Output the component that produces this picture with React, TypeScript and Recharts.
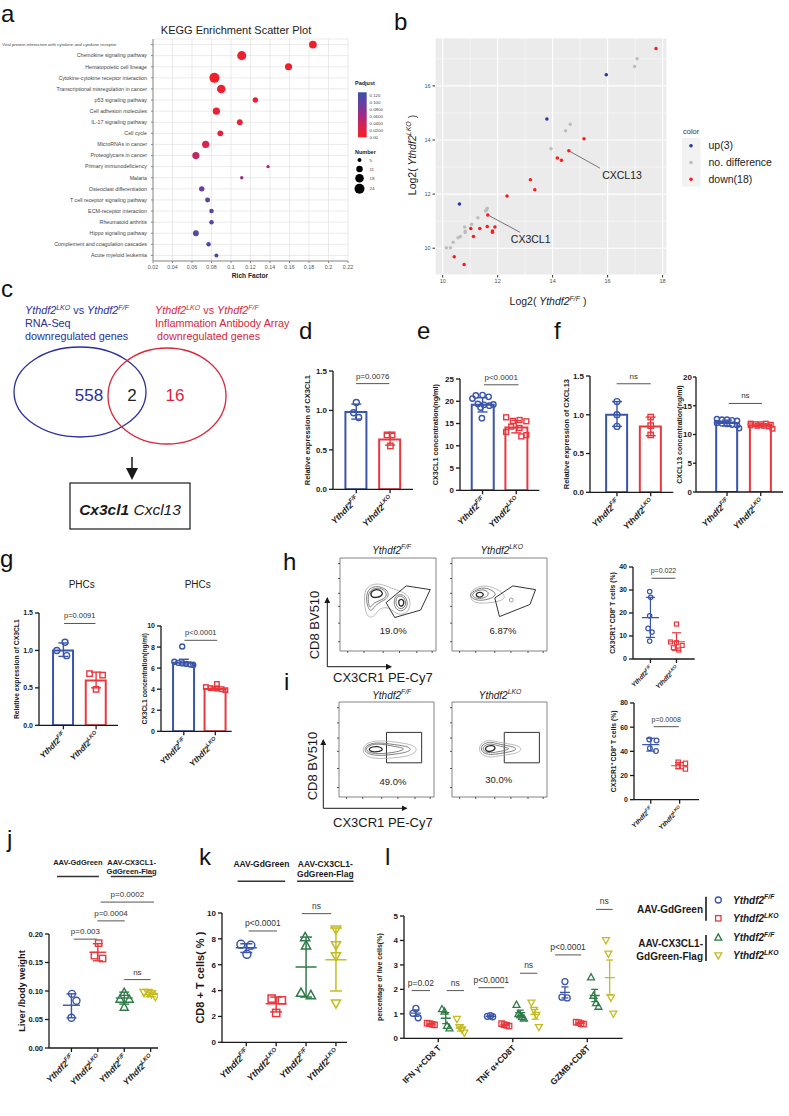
import React from "react";
import {
  ComposedChart, ScatterChart, Scatter, Bar, Line, Cell, XAxis, YAxis,
  CartesianGrid, ErrorBar, ReferenceLine, ReferenceArea, ReferenceDot, Label, Legend,
} from "recharts";

const FONT = '"Liberation Sans", Arial, Helvetica, sans-serif';
const BLUE = "#3a55aa";
const RED = "#e8383e";
const GREEN = "#2e7b48";
const YEL = "#c4bc20";
const INK = "#1a1a1a";

// ---------- a: KEGG enrichment ----------
const keggTerms = [
  "Viral protein interaction with cytokine and cytokine receptor",
  "Chemokine signaling pathway",
  "Hematopoietic cell lineage",
  "Cytokine-cytokine receptor interaction",
  "Transcriptional misregulation in cancer",
  "p53 signaling pathway",
  "Cell adhesion molecules",
  "IL-17 signaling pathway",
  "Cell cycle",
  "MicroRNAs in cancer",
  "Proteoglycans in cancer",
  "Primary immunodeficiency",
  "Malaria",
  "Osteoclast differentiation",
  "T cell receptor signaling pathway",
  "ECM-receptor interaction",
  "Rheumatoid arthritis",
  "Hippo signaling pathway",
  "Complement and coagulation cascades",
  "Acute myeloid leukemia",
];
const keggRich = [0.184, 0.111, 0.159, 0.083, 0.09, 0.125, 0.085, 0.109, 0.089, 0.074, 0.064, 0.138, 0.111, 0.07, 0.076, 0.08, 0.08, 0.064, 0.077, 0.085];
const keggCount = [15, 20, 13, 24, 18, 8, 13, 9, 9, 13, 13, 4, 4, 8, 7, 6, 6, 9, 6, 5];
const keggPadj = [0.004, 0.006, 0.006, 0.002, 0.008, 0.01, 0.012, 0.012, 0.015, 0.03, 0.045, 0.055, 0.06, 0.095, 0.1, 0.105, 0.105, 0.11, 0.115, 0.12];
const keggTicks = [0.02, 0.04, 0.06, 0.08, 0.1, 0.12, 0.14, 0.16, 0.18, 0.2, 0.22];
const numberLegend = [5, 11, 18, 24];
const padjLegend = [0.12, 0.1, 0.08, 0.06, 0.04, 0.02, 0];
const padjLegendText = ["0.120", "0.100", "0.0800", "0.0600", "0.0400", "0.0200", "0.00"];

// ---------- b: scatter ----------
const bUpX = [15.95, 13.79, 10.61];
const bUpY = [16.41, 14.78, 11.63];
const bSameX = [17.07, 16.98, 14.64, 14.47, 13.94, 11.62, 11.6, 11.56, 11.28, 11.05, 10.8, 10.82, 10.82, 10.64, 10.56, 10.38, 10.28, 10.13];
const bSameY = [17.0, 16.72, 14.58, 14.34, 13.68, 11.48, 11.42, 11.38, 11.13, 10.89, 10.78, 10.63, 10.58, 10.43, 10.39, 10.22, 10.02, 10.02];
const bDownX = [17.76, 15.14, 14.59, 14.17, 14.32, 13.19, 13.35, 12.34, 11.64, 11.02, 11.35, 11.62, 11.9, 11.81, 11.81, 11.12, 10.42, 10.78];
const bDownY = [17.38, 14.05, 13.6, 13.33, 13.25, 12.53, 12.16, 11.93, 11.23, 10.73, 10.73, 10.8, 10.78, 10.64, 10.59, 10.43, 9.68, 9.4];
const bNames = ["up(3)", "no. difference", "down(18)"];

// ---------- d-g: bars with dots ----------
const dFF = [1.1, 0.97, 0.91];
const dLKO = [0.69, 0.69, 0.55];
const dMean = [0.98, 0.63];
const dSD = [[0.89, 1.08], [0.56, 0.71]];
const eFF = [21.3, 21.4, 21.0, 20.6, 19.4, 19.2, 19.0, 19.3, 18.6, 16.2];
const eLKO = [16.4, 15.6, 15.8, 15.5, 14.3, 14.0, 13.1, 12.1, 12.4];
const eMean = [19.2, 14.1];
const eSD = [[17.6, 20.8], [12.9, 15.7]];
const fFF = [1.17, 1.0, 0.85];
const fLKO = [0.97, 0.86, 0.74];
const fMean = [1.0, 0.85];
const fSD = [[0.85, 1.17], [0.73, 0.97]];
const f2FF = [12.7, 12.6, 12.6, 12.5, 12.4, 12.0, 11.9, 11.8, 11.7, 11.6, 11.1];
const f2LKO = [11.9, 11.8, 11.8, 11.9, 11.7, 11.6, 11.5, 11.5, 11.4, 11.0];
const f2Mean = [12.0, 11.6];
const f2SD = [[11.5, 12.5], [11.3, 11.9]];
const gFF = [1.11, 1.0, 0.93];
const gLKO = [0.69, 0.67, 0.48];
const gMean = [1.0, 0.6];
const gSD = [[0.92, 1.1], [0.5, 0.71]];
const g2FF = [8.05, 6.6, 6.5, 6.45, 6.4, 6.35, 6.3];
const g2LKO = [4.5, 4.2, 4.1, 4.05, 4.0, 3.9];
const g2Mean = [6.52, 4.02];
const g2SD = [[6.3, 6.84], [3.9, 4.2]];

// ---------- h, i: CX3CR1+ CD8+ T cells ----------
const hFF = [29.3, 26.8, 18.8, 13.3, 11.7, 7.8];
const hLKO = [15.2, 7.4, 7.1, 5.9, 4.9, 3.9];
const hMean = [18.0, 7.5];
const hSD = [[9.4, 26.8], [3.8, 11.4]];
const iFF = [49.8, 49.0, 42.5, 40.2];
const iLKO = [31.0, 30.1, 27.6, 25.4];
const iMean = [45.5, 28.1];
const iSD = [[40.2, 50.8], [25.6, 30.8]];

// ---------- j, k ----------
const jVals = [[0.095, 0.083, 0.053], [0.184, 0.162, 0.157], [0.098, 0.086, 0.086, 0.072], [0.097, 0.097, 0.095, 0.09]];
const jMean = [0.075, 0.168, 0.0877, 0.094];
const jSD = [[0.053, 0.095], [0.153, 0.183], [0.077, 0.098], [0.09, 0.098]];
const kVals = [[7.58, 7.5, 6.8], [3.38, 3.25, 2.27], [8.14, 7.5, 3.84, 3.66], [8.71, 7.5, 6.65, 2.99]];
const kMean = [7.32, 2.99, 5.82, 6.39];
const kSD = [[6.95, 7.62], [2.35, 3.5], [3.5, 8.14], [3.97, 8.84]];

// ---------- l ----------
const lCats = ["IFN γ+CD8 T", "TNF α+CD8T", "GZMB+CD8T"];
const lVals = [
  [[1.22, 1.02, 0.84], [0.62, 0.6, 0.57, 0.55], [1.2, 1.1, 0.52, 0.42], [0.78, 0.45, 0.35, 0.22]],
  [[0.93, 0.9, 0.88], [0.6, 0.56, 0.53, 0.5], [1.38, 1.0, 0.95, 0.88, 0.82], [1.45, 1.15, 0.95, 0.45]],
  [[2.32, 1.68, 1.65], [0.66, 0.64, 0.6, 0.58], [2.5, 1.75, 1.45, 1.3], [4.0, 3.45, 1.65, 1.0]],
];
const lMean = [[1.03, 0.58, 0.82, 0.42], [0.9, 0.55, 1.05, 0.98], [1.88, 0.62, 1.75, 2.48]];
const lErr = [
  [[0.9, 1.16], [0.55, 0.61], [0.6, 1.05], [0.3, 0.55]],
  [[0.88, 0.92], [0.52, 0.58], [0.94, 1.15], [0.78, 1.18]],
  [[1.65, 2.1], [0.6, 0.65], [1.5, 2.0], [1.78, 3.2]],
];

// ---------- flow contours (in % of axis range) ----------
const flowTicksX = [8, 25, 45, 62, 80, 96];
const flowTicksY = [10, 30, 48, 62, 78, 94];
const h1Rings = [
  [[26, 69], [40, 74], [54, 67], [68, 63], [74, 55], [72, 41], [60, 38], [52, 47], [41, 47], [35, 35], [27, 37], [25, 55]],
  [[28, 67], [40, 71], [52, 64], [49, 55], [37, 51], [32, 40], [27, 52]],
  [[30, 66], [42, 69], [50, 62], [46, 55], [35, 53], [31, 44], [29, 55]],
  [[56, 60], [67, 62], [72, 50], [65, 41], [56, 46]],
  [[58, 59], [66, 60], [70, 50], [64, 44], [58, 48]],
  [[32, 65], [42, 67], [46, 60], [37, 57], [32, 58]],
  [[61, 55], [66, 56], [67, 50], [63, 47], [61, 51]],
];
const h1Lvl = [0, 1, 1, 1, 1, 2, 2];
const h1Gate = [[48, 52], [69, 70], [94, 66], [84, 44], [57, 36]];
const h2Rings = [
  [[18, 64], [30, 71], [43, 69], [55, 62], [56, 55], [42, 52], [30, 51], [20, 53]],
  [[20, 63], [31, 69], [42, 66], [48, 60], [38, 55], [26, 54], [19, 58]],
  [[22, 63], [32, 67], [40, 63], [36, 57], [26, 56], [21, 59]],
  [[24, 62], [32, 64], [34, 59], [27, 57]],
];
const h2Lvl = [0, 1, 1, 2];
const h2Gate = [[45, 57], [64, 70], [88, 66], [82, 50], [50, 37]];
const i1Rings = [
  [[25, 55], [38, 60], [59, 58], [79, 55], [83, 49], [75, 43], [56, 41], [38, 40], [25, 44]],
  [[27, 54], [39, 58], [59, 55], [75, 53], [76, 48], [60, 45], [40, 43], [27, 46]],
  [[28, 53], [40, 57], [59, 53], [72, 51], [60, 47], [41, 45], [29, 47]],
  [[31, 52], [41, 54], [48, 50], [40, 47], [32, 48]],
];
const i2Rings = [
  [[28, 55], [38, 61], [51, 57], [68, 55], [75, 50], [66, 45], [51, 44], [40, 41], [29, 45]],
  [[30, 54], [39, 59], [51, 55], [66, 53], [69, 49], [52, 46], [40, 44], [31, 47]],
  [[32, 53], [40, 57], [51, 53], [64, 51], [51, 48], [40, 46], [33, 48]],
  [[35, 53], [43, 55], [47, 51], [40, 47], [35, 49]],
];
const iLvl = [0, 1, 1, 2];
const i1Gate = [50, 87, 36, 68];
const i2Gate = [55, 92, 36, 68];

// ---------- helpers ----------
const padjStops: [number, string][] = [[0, "#f41f26"], [0.03, "#d8234a"], [0.06, "#a8277e"], [0.09, "#6d3c9f"], [0.128, "#3c4fa8"]];
function hexRgb(h: string) {
  const n = parseInt(h.slice(1), 16);
  return [(n >> 16) & 255, (n >> 8) & 255, n & 255];
}
function padjColor(v: number) {
  for (let i = 1; i < padjStops.length; i++) {
    const [v1, c1] = padjStops[i];
    const [v0, c0] = padjStops[i - 1];
    if (v <= v1) {
      const t = (v - v0) / (v1 - v0);
      const a = hexRgb(c0), b = hexRgb(c1);
      return `rgb(${a.map((x, k) => Math.round(x + (b[k] - x) * t)).join(",")})`;
    }
  }
  return padjStops[padjStops.length - 1][1];
}
// gene count -> circle radius (area linear in count)
const zRange = [12.6, 78.5];
const zRadius = (n: number) => Math.sqrt(Math.max(zRange[0] + ((n - 5) / 19) * (zRange[1] - zRange[0]), 4) / Math.PI);

function marker(mk: string, color: string, r: number, sw: number) {
  return (p: any) => {
    const { cx, cy } = p;
    if (cx == null || cy == null) return <g />;
    if (mk === "sq") {
      const s = r * 0.9;
      return <rect x={cx - s} y={cy - s} width={2 * s} height={2 * s} fill="none" stroke={color} strokeWidth={sw} />;
    }
    if (mk === "tri" || mk === "itri") {
      const h = r * 1.15;
      const d = mk === "tri" ? 1 : -1;
      return (
        <polygon
          points={`${cx},${cy - d * h} ${cx - h},${cy + d * h * 0.8} ${cx + h},${cy + d * h * 0.8}`}
          fill="none" stroke={color} strokeWidth={sw}
        />
      );
    }
    return <circle cx={cx} cy={cy} r={r} fill="none" stroke={color} strokeWidth={sw} />;
  };
}

function RotTick(props: any) {
  const { x, y, index, labels, fs, italic } = props;
  const lab = labels[index];
  if (!lab) return null;
  return (
    <g transform={`translate(${x},${y + 1}) rotate(-45)`}>
      <text x={0} y={0} dy={fs * 0.55} textAnchor="end" fontSize={fs} fontWeight={700}
        fontStyle={italic ? "italic" : "normal"} fill={INK}>
        {lab[0]}
        {lab[1] ? <tspan dy={-fs * 0.45} fontSize={fs * 0.68}>{lab[1]}</tspan> : null}
      </text>
    </g>
  );
}

function grp(x: number, pts: number[], jit: number[], mean: number, sd: number[], color: string, mk: string) {
  return { x, pts, jit, mean, sd, color, mk };
}

function DotPanel(p: any) {
  const ML = 46, MR = p.mr ?? 20, MB = 62, MT = p.mt ?? 56;
  const left = p.px - ML, top = p.py - MT;
  const W = ML + p.pw + MR, H = MT + p.ph + MB;
  const rows = p.groups.map((g: any) => ({ x: g.x, y: g.mean }));
  const empty = () => <g />;
  const meanLine = (color: string) => (q: any) =>
    q.cx == null ? <g /> : <line x1={q.cx - p.meanW} x2={q.cx + p.meanW} y1={q.cy} y2={q.cy} stroke={color} strokeWidth={p.sw} />;
  return (
    <div style={{ position: "absolute", left, top }}>
      <ComposedChart width={W} height={H} data={rows} margin={{ top: MT, right: MR, bottom: 0, left: 0 }}>
        <XAxis type="number" dataKey="x" domain={p.xDom} ticks={p.xTicks} interval={0} allowDataOverflow height={MB}
          axisLine={{ stroke: INK, strokeWidth: 1.3 }} tickLine={{ stroke: INK, strokeWidth: 1.3 }} tickSize={4}
          tick={<RotTick labels={p.labels} fs={p.xfs} italic={p.italic !== false} />} />
        <XAxis xAxisId="pts" type="number" dataKey="x" domain={p.xDom} allowDataOverflow hide />
        <YAxis type="number" dataKey="y" domain={p.yDom} ticks={p.yTicks} interval={0} allowDataOverflow width={ML}
          axisLine={{ stroke: INK, strokeWidth: 1.3 }} tickLine={{ stroke: INK, strokeWidth: 1.3 }} tickSize={p.tsz ?? 4}
          tickMargin={p.tm ?? 2}
          tickFormatter={(v: number) => v.toFixed(p.dec)} tick={{ fontSize: p.fs, fontWeight: 700, fill: INK }}>
          <Label content={() => (
            <text transform={`translate(${p.lx - left},${MT + p.ph / 2}) rotate(-90)`} textAnchor="middle"
              dominantBaseline="central" fontSize={p.lfs} fontWeight={700} fill={INK}>{p.ylabel}</text>
          )} />
        </YAxis>
        {p.bar && (
          <Bar dataKey="y" barSize={p.bw} fill="none" isAnimationActive={false}>
            {p.groups.map((g: any, i: number) => <Cell key={i} stroke={g.color} strokeWidth={2} fill="none" />)}
          </Bar>
        )}
        {p.groups.map((g: any, i: number) => (
          <Scatter key={"m" + i} xAxisId="pts" dataKey="y" isAnimationActive={false}
            data={[{ x: g.x, y: g.mean, e: [g.mean - g.sd[0], g.sd[1] - g.mean] }]}
            shape={p.bar ? empty : meanLine(g.color)}>
            <ErrorBar dataKey="e" direction="y" width={p.cap} stroke={g.color} strokeWidth={p.sw} />
          </Scatter>
        ))}
        {p.groups.map((g: any, i: number) => (
          <Scatter key={"p" + i} xAxisId="pts" dataKey="y" isAnimationActive={false}
            data={g.pts.map((v: number, k: number) => ({ x: g.x + (g.jit[k] || 0), y: v }))}
            shape={marker(g.mk, g.color, p.r, p.sw)} />
        ))}
        {p.pvals.map((q: any, i: number) => (
          <ReferenceLine key={"q" + i} segment={[{ x: q.a, y: q.y }, { x: q.b, y: q.y }]} ifOverflow="visible"
            stroke="#555" strokeWidth={1}
            label={{ value: q.t, position: "top", fontSize: p.pfs, fill: "#333", offset: 5 }} />
        ))}
        {(p.headers || []).map((h: any, i: number) => (
          <ReferenceLine key={"h" + i} segment={[{ x: h.a, y: h.y }, { x: h.b, y: h.y }]} ifOverflow="visible"
            stroke="#333" strokeWidth={1.6}
            label={{
              content: (lp: any) => {
                const vb = lp.viewBox || {};
                const cx = vb.x + vb.width / 2;
                return (
                  <text textAnchor="middle" fontSize={p.hfs} fontWeight={700} fill={INK}>
                    {h.lines.map((s: string, k: number) => (
                      <tspan key={k} x={cx} y={vb.y - p.htop + k * p.hgap}>{s}</tspan>
                    ))}
                  </text>
                );
              },
            }} />
        ))}
      </ComposedChart>
    </div>
  );
}

const geno2 = [["Ythdf2", "F/F"], ["Ythdf2", "LKO"]];
const geno4 = [["Ythdf2", "F/F"], ["Ythdf2", "LKO"], ["Ythdf2", "F/F"], ["Ythdf2", "LKO"]];
const ringStyle = [["#a8a8a8", 0.8], ["#707070", 0.9], ["#2a2a2a", 1.3]];

function FlowPlot(p: any) {
  const ML = 14, MB = 12, MT = 2, MR = 2;
  return (
    <div style={{ position: "absolute", left: p.px - ML, top: p.py - MT }}>
      <ComposedChart width={ML + p.pw + MR} height={MT + p.ph + MB} margin={{ top: MT, right: MR, bottom: 0, left: 0 }}>
        <XAxis type="number" dataKey="x" domain={[0, 100]} ticks={flowTicksX} interval={0} tickFormatter={() => ""}
          height={MB} axisLine={false} tickSize={2} tickLine={{ stroke: "#555" }} allowDataOverflow />
        <YAxis type="number" dataKey="y" domain={[0, 100]} ticks={flowTicksY} interval={0} tickFormatter={() => ""}
          width={ML} axisLine={false} tickSize={2} tickLine={{ stroke: "#555" }} allowDataOverflow />
        <ReferenceArea x1={0} x2={100} y1={0} y2={100} fill="none" stroke="#777" strokeWidth={0.9} fillOpacity={0} />
        {p.rings.map((r: number[][], i: number) => (
          <Line key={i} data={r.map(([x, y]) => ({ x, y }))} dataKey="y" type="basisClosed"
            stroke={ringStyle[p.lvl[i]][0] as string} strokeWidth={ringStyle[p.lvl[i]][1] as number}
            dot={false} activeDot={false} isAnimationActive={false} />
        ))}
        {p.gate && (
          <Line data={p.gate.map(([x, y]: number[]) => ({ x, y }))} dataKey="y" type="linearClosed" stroke="#333"
            strokeWidth={1} dot={false} activeDot={false} isAnimationActive={false} />
        )}
        {p.rect && (
          <ReferenceArea x1={p.rect[0]} x2={p.rect[1]} y1={p.rect[2]} y2={p.rect[3]} fill="none" fillOpacity={0}
            stroke="#333" strokeWidth={1} />
        )}
        {p.blip && <ReferenceDot x={p.blip[0]} y={p.blip[1]} r={2} fill="none" stroke="#888" strokeWidth={0.8} />}
        <ReferenceDot x={p.pctAt[0]} y={p.pctAt[1]} r={0} stroke="none"
          label={{ value: p.pct, position: "center", fontSize: 9.5, fill: "#222" }} />
      </ComposedChart>
    </div>
  );
}

function KeggTick(props: any) {
  const { x, y, payload } = props;
  const s = String(payload.value);
  if (s.length > 45) {
    return <text x={2} y={y} dy={1.6} textAnchor="start" fontSize={4.4} fill="#444">{s}</text>;
  }
  return <text x={x - 2} y={y} dy={1.8} textAnchor="end" fontSize={5.3} fill="#444">{s}</text>;
}

const keggDot = (q: any) =>
  q.cx == null ? <g /> : <circle cx={q.cx} cy={q.cy} r={zRadius(q.payload.n)} fill={padjColor(q.payload.padj)} />;

function KeggPanel() {
  const rows = keggTerms.map((t, i) => ({ term: t, rich: keggRich[i], n: keggCount[i], padj: keggPadj[i] }));
  return (
    <div style={{ position: "absolute", left: 0, top: 20 }}>
      <ScatterChart width={400} height={272} margin={{ top: 19, right: 52, bottom: 0, left: 0 }}>
        <CartesianGrid stroke="#e2e2e2" strokeWidth={0.7} />
        <XAxis type="number" dataKey="rich" domain={[0.02, 0.22]} ticks={keggTicks} interval={0} allowDataOverflow height={31}
          tickSize={2} tick={{ fontSize: 5.3, fill: "#555" }} tickFormatter={(v: number) => String(+v.toFixed(2))}
          axisLine={{ stroke: "#8a8a8a" }} tickLine={{ stroke: "#8a8a8a" }}>
          <Label content={() => (
            <text x={250} y={258} textAnchor="middle" fontSize={6.6} fontWeight={700} fill="#222">Rich Factor</text>
          )} />
        </XAxis>
        <YAxis type="category" dataKey="term" reversed width={153} interval={0} tick={<KeggTick />} tickSize={2}
          axisLine={{ stroke: "#8a8a8a" }} tickLine={{ stroke: "#8a8a8a" }} />
        <XAxis xAxisId="t" orientation="top" type="number" domain={[0, 1]} tick={false} tickLine={false} height={0}
          axisLine={{ stroke: "#8a8a8a" }} />
        <YAxis yAxisId="r" orientation="right" type="number" domain={[0, 1]} tick={false} tickLine={false} width={0}
          axisLine={{ stroke: "#8a8a8a" }} />
        <Scatter data={rows} isAnimationActive={false} shape={keggDot} />
      </ScatterChart>
    </div>
  );
}

function BLegend(props: any) {
  const pay = props.payload || [];
  const items = bNames.map((n) => pay.find((q: any) => q.value === n)).filter(Boolean);
  return (
    <svg width={108} height={70} style={{ overflow: "visible" }}>
      <text x={1} y={8.5} fontSize={7.5} fill="#333">color</text>
      <rect x={0} y={13} width={18.5} height={48.5} fill="#f2f2f2" />
      {items.map((it: any, i: number) => (
        <g key={i}>
          <circle cx={9} cy={20.7 + 16.8 * i} r={1.8} fill={it.color} />
          <text x={26.5} y={24.4 + 16.8 * i} fontSize={10.5} fill="#222">{it.value}</text>
        </g>
      ))}
    </svg>
  );
}

const bDot = (color: string) => (q: any) => (q.cx == null ? <g /> : <circle cx={q.cx} cy={q.cy} r={1.75} fill={color} />);

function ScatterB() {
  const up = bUpX.map((x, i) => ({ x, y: bUpY[i] }));
  const same = bSameX.map((x, i) => ({ x, y: bSameY[i] }));
  const down = bDownX.map((x, i) => ({ x, y: bDownY[i] }));
  const minor = [11, 13, 15, 17];
  return (
    <div style={{ position: "absolute", left: 380, top: 20 }}>
      <ScatterChart width={409} height={300} margin={{ top: 18, right: 122, bottom: 0, left: 0 }}>
        <CartesianGrid fill="#ebebeb" stroke="#ffffff" strokeWidth={1.1} />
        {minor.map((v) => <ReferenceLine key={"x" + v} x={v} stroke="#fff" strokeWidth={0.5} />)}
        {minor.map((v) => <ReferenceLine key={"y" + v} y={v} stroke="#fff" strokeWidth={0.5} />)}
        <XAxis type="number" dataKey="x" domain={[9.72, 18.16]} ticks={[10, 12, 14, 16, 18]} interval={0} allowDataOverflow
          height={45} tickSize={2.5} tick={{ fontSize: 5.5, fill: "#4d4d4d" }} axisLine={false} tickLine={{ stroke: "#333" }}>
          <Label content={() => (
            <text x={168} y={285} textAnchor="middle" fontSize={10.5} fill="#222">
              Log2(<tspan fontStyle="italic"> Ythdf2</tspan><tspan dy={-4} fontSize={7} fontStyle="italic">F/F</tspan><tspan dy={4}> )</tspan>
            </text>
          )} />
        </XAxis>
        <YAxis type="number" dataKey="y" domain={[9.01, 17.77]} ticks={[10, 12, 14, 16]} interval={0} allowDataOverflow
          width={55} tickSize={2.5} tick={{ fontSize: 5.5, fill: "#4d4d4d" }} axisLine={false} tickLine={{ stroke: "#333" }}>
          <Label content={() => (
            <text transform="translate(32,135) rotate(-90)" textAnchor="middle" dominantBaseline="central" fontSize={10.5} fill="#222">
              Log2(<tspan fontStyle="italic"> Ythdf2</tspan><tspan dy={-4} fontSize={7} fontStyle="italic">LKO</tspan><tspan dy={4}> )</tspan>
            </text>
          )} />
        </YAxis>
        <ReferenceLine segment={[{ x: 14.59, y: 13.6 }, { x: 15.72, y: 12.96 }]} stroke="#444" strokeWidth={0.7} />
        <ReferenceLine segment={[{ x: 11.64, y: 11.23 }, { x: 12.81, y: 10.59 }]} stroke="#444" strokeWidth={0.7} />
        <Scatter name={bNames[1]} data={same} fill="#bdbdbd" shape={bDot("#bdbdbd")} isAnimationActive={false} />
        <Scatter name={bNames[2]} data={down} fill="#ff1a1a" shape={bDot("#ff1a1a")} isAnimationActive={false} />
        <Scatter name={bNames[0]} data={up} fill="#1f3c9e" shape={bDot("#1f3c9e")} isAnimationActive={false} />
        <ReferenceDot x={15.8} y={12.71} r={0} stroke="none" label={{ value: "CXCL13", position: "right", offset: 0, fontSize: 10.5, fill: "#222" }} />
        <ReferenceDot x={12.48} y={10.33} r={0} stroke="none" label={{ value: "CX3CL1", position: "right", offset: 0, fontSize: 10.5, fill: "#222" }} />
        <Legend layout="horizontal" verticalAlign="middle" align="center"
          wrapperStyle={{ left: 302, top: 105, width: 108, height: 70 }} content={(lp: any) => <BLegend payload={lp.payload} />} />
      </ScatterChart>
    </div>
  );
}

function Geno({ x, y, sup, fs, anchor = "start", weight = 700, fill = INK }: any) {
  return (
    <text x={x} y={y} fontSize={fs} fontStyle="italic" fontWeight={weight} textAnchor={anchor} fill={fill}>
      Ythdf2<tspan dy={-fs * 0.42} fontSize={fs * 0.68}>{sup}</tspan>
    </text>
  );
}

function Overlay() {
  const letters: [string, number, number][] = [
    ["a", 1, 21.5], ["b", 394, 30], ["c", 1, 297], ["d", 299, 339], ["e", 417, 339], ["f", 554, 339],
    ["g", 0, 567], ["h", 283, 570], ["i", 284, 690], ["j", 7, 847], ["k", 199, 865], ["l", 385, 865],
  ];
  const VB = "#2a2f9c", VR = "#d9263b";
  const barTop = 92.3, barH = 45;
  const lSym = [["c", BLUE, 900, "F/F"], ["sq", RED, 918.3, "LKO"], ["tri", GREEN, 937.3, "F/F"], ["itri", YEL, 955.7, "LKO"]];
  const gradStops = padjStops.slice().reverse();
  return (
    <svg width={789} height={1116} style={{ position: "absolute", left: 0, top: 0, pointerEvents: "none" }} fontFamily={FONT}>
      <defs>
        <linearGradient id="padj" x1="0" y1="0" x2="0" y2="1">
          {gradStops.map(([v, c], i) => <stop key={i} offset={1 - v / 0.128} stopColor={c} />)}
        </linearGradient>
        <marker id="ah" markerWidth="6" markerHeight="6" refX="5" refY="3" orient="auto">
          <path d="M0,0 L6,3 L0,6 z" fill={INK} />
        </marker>
        <marker id="ah2" markerWidth="8" markerHeight="8" refX="4" refY="4" orient="auto">
          <path d="M0,0 L8,4 L0,8 z" fill={INK} />
        </marker>
      </defs>
      {letters.map(([t, x, y]) => <text key={t} x={x} y={y} fontSize={24} fill="#111">{t}</text>)}

      {/* a title and legends */}
      <text x={236} y={34} textAnchor="middle" fontSize={11} fill="#222">KEGG Enrichment Scatter Plot</text>
      <text x={355} y={85} fontSize={5.5} fontWeight={700} fill="#222">Padjust</text>
      <rect x={358} y={barTop} width={8.7} height={barH} fill="url(#padj)" />
      {padjLegend.map((v, i) => (
        <g key={i}>
          <line x1={366.7} x2={368.5} y1={137.3 - (v / 0.12) * 42.3} y2={137.3 - (v / 0.12) * 42.3} stroke="#fff" strokeWidth={0.5} />
          <text x={369.5} y={137.3 - (v / 0.12) * 42.3 + 1.6} fontSize={4.4} fill="#444">{padjLegendText[i]}</text>
        </g>
      ))}
      <text x={355} y={154} fontSize={5.5} fontWeight={700} fill="#222">Number</text>
      {numberLegend.map((n, i) => {
        const cy = [160, 169, 178.3, 188.7][i];
        return (
          <g key={n}>
            <circle cx={359.5} cy={cy} r={zRadius(n)} fill="#000" />
            <text x={369.5} y={cy + 1.6} fontSize={4.4} fill="#444">{n}</text>
          </g>
        );
      })}

      {/* c Venn */}
      <text x={25} y={314} fontSize={10.8} fill={VB}>
        <tspan fontStyle="italic">Ythdf2</tspan><tspan fontStyle="italic" fontSize={7} dy={-4}>LKO</tspan>
        <tspan dy={4}> vs </tspan><tspan fontStyle="italic">Ythdf2</tspan><tspan fontStyle="italic" fontSize={7} dy={-4}>F/F</tspan>
      </text>
      <text x={25} y={327} fontSize={10.8} fill={VB}>RNA-Seq</text>
      <text x={25} y={339.5} fontSize={10.8} fill={VB}>downregulated genes</text>
      <text x={155} y={314} fontSize={10.8} fill={VR}>
        <tspan fontStyle="italic">Ythdf2</tspan><tspan fontStyle="italic" fontSize={7} dy={-4}>LKO</tspan>
        <tspan dy={4}> vs </tspan><tspan fontStyle="italic">Ythdf2</tspan><tspan fontStyle="italic" fontSize={7} dy={-4}>F/F</tspan>
      </text>
      <text x={155} y={327} fontSize={10.8} fill={VR}>Inflammation Antibody Array</text>
      <text x={157} y={339.5} fontSize={10.8} fill={VR}> downregulated genes</text>
      <ellipse cx={80} cy={392} rx={66} ry={45} fill="none" stroke={VB} strokeWidth={1.3} />
      <ellipse cx={167} cy={396} rx={59} ry={48} fill="none" stroke={VR} strokeWidth={1.3} />
      <text x={89} y={401} textAnchor="middle" fontSize={17} fill={VB}>558</text>
      <text x={132} y={401} textAnchor="middle" fontSize={17} fill="#222">2</text>
      <text x={175} y={401} textAnchor="middle" fontSize={17} fill={VR}>16</text>
      <line x1={132} y1={457} x2={132} y2={474} stroke={INK} strokeWidth={1.5} markerEnd="url(#ah2)" />
      <rect x={70} y={483} width={120} height={46} fill="none" stroke={INK} strokeWidth={1.2} />
      <text x={130} y={514.5} textAnchor="middle" fontSize={15.5} fontStyle="italic" fill={INK}>
        <tspan fontWeight={700}>Cx3cl1</tspan> Cxcl13
      </text>

      {/* g titles */}
      <text x={81.7} y={588} textAnchor="middle" fontSize={10} fill="#222">PHCs</text>
      <text x={197.7} y={588} textAnchor="middle" fontSize={10} fill="#222">PHCs</text>

      {/* h, i flow labels */}
      <Geno x={391.7} y={553.5} sup="F/F" fs={10} anchor="middle" weight={400} />
      <Geno x={501.7} y={553.5} sup="LKO" fs={10} anchor="middle" weight={400} />
      <Geno x={391.7} y={698.5} sup="F/F" fs={10} anchor="middle" weight={400} />
      <Geno x={500} y={698.5} sup="LKO" fs={10} anchor="middle" weight={400} />
      <line x1={327.3} y1={666.7} x2={327.3} y2={598} stroke={INK} strokeWidth={1} markerEnd="url(#ah)" />
      <line x1={327.3} y1={666.7} x2={391} y2={666.7} stroke={INK} strokeWidth={1} markerEnd="url(#ah)" />
      <line x1={323.3} y1={808.3} x2={323.3} y2={740} stroke={INK} strokeWidth={1} markerEnd="url(#ah)" />
      <line x1={323.3} y1={808.3} x2={406.5} y2={808.3} stroke={INK} strokeWidth={1} markerEnd="url(#ah)" />
      <text transform="translate(314,625) rotate(-90)" textAnchor="middle" dominantBaseline="central" fontSize={13} fill={INK}>CD8 BV510</text>
      <text transform="translate(312.5,766) rotate(-90)" textAnchor="middle" dominantBaseline="central" fontSize={13} fill={INK}>CD8 BV510</text>
      <text x={333} y={681.5} fontSize={13} fill={INK}>CX3CR1 PE-Cy7</text>
      <text x={333} y={826.5} fontSize={13} fill={INK}>CX3CR1 PE-Cy7</text>

      {/* l legend */}
      <text x={703} y={912.5} textAnchor="end" fontSize={10} fontWeight={700} fill={INK}>AAV-GdGreen</text>
      <line x1={706} x2={706} y1={896.7} y2={920.7} stroke={INK} strokeWidth={1.6} />
      <text x={703} y={946.5} textAnchor="end" fontSize={10} fontWeight={700} fill={INK}>AAV-CX3CL1-</text>
      <text x={703} y={959.5} textAnchor="end" fontSize={10} fontWeight={700} fill={INK}>GdGreen-Flag</text>
      <line x1={706} x2={706} y1={935} y2={961} stroke={INK} strokeWidth={1.6} />
      {lSym.map(([mk, c, y, sup], i) => (
        <g key={i}>
          {marker(mk as string, c as string, 3, 1.3)({ cx: 718.3, cy: y })}
          <Geno x={733} y={(y as number) + 3.5} sup={sup} fs={10} />
        </g>
      ))}
    </svg>
  );
}

export default function App() {
  const two = (a: number[], b: number[], ja: number[], jb: number[], m: number[], sd: number[][]) => [
    grp(1, a, ja, m[0], sd[0], BLUE, "c"),
    grp(2, b, jb, m[1], sd[1], RED, "sq"),
  ];
  const four = (vals: number[][], jits: number[][], m: number[], sd: number[][]) =>
    vals.map((v, i) => grp(i + 1, v, jits[i], m[i], sd[i], [BLUE, RED, GREEN, YEL][i], ["c", "sq", "tri", "itri"][i]));
  const lOff = [-0.3, -0.1, 0.1, 0.3];
  const lJit: Record<number, number[]> = { 3: [0, -0.04, 0.03], 4: [-0.05, -0.017, 0.017, 0.05], 5: [-0.05, -0.025, 0, 0.025, 0.05] };
  const lGroups = lVals.flatMap((cat, c) =>
    cat.map((v, k) => grp(c + 1 + lOff[k], v, lJit[v.length], lMean[c][k], lErr[c][k], [BLUE, RED, GREEN, YEL][k], ["c", "sq", "tri", "itri"][k]))
  );
  const base = { r: 3, sw: 1.4, cap: 5, meanW: 0, fs: 8, lfs: 7.5, xfs: 8.5, pfs: 8, labels: geno2, xTicks: [1, 2], bar: true, bw: 21 };
  return (
    <div style={{ position: "absolute", left: 0, top: 0, width: 789, height: 1116, background: "#fff", fontFamily: FONT, overflow: "hidden" }}>
      <KeggPanel />
      <ScatterB />
      <DotPanel {...base} px={332.7} py={370.7} pw={80} ph={118.3} xDom={[0.31, 2.68]} yDom={[0, 1.5]} yTicks={[0, 0.5, 1, 1.5]} dec={1}
        groups={two(dFF, dLKO, [0, -0.08, 0.07], [-0.09, 0.06, 0.01], dMean, dSD)} lx={306.7} ylabel="Relative expression of CX3CL1"
        pvals={[{ a: 0.99, b: 1.98, y: 1.34, t: "p=0.0076" }]} />
      <DotPanel {...base} r={2.7} bw={22} px={460} py={378.7} pw={79.3} ph={111.3} xDom={[0.33, 2.685]} yDom={[0, 25]} yTicks={[0, 5, 10, 15, 20, 25]} dec={0}
        groups={two(eFF, eLKO, [-0.2, 0, 0.18, -0.3, -0.14, 0.04, 0.2, 0.32, -0.06, -0.02], [-0.3, -0.1, 0.1, 0.3, -0.15, 0.1, -0.3, 0.15, 0.3], eMean, eSD)}
        lx={435.7} lfs={7.2} ylabel="CX3CL1 concentration(ng/ml)" pvals={[{ a: 1.04, b: 2.07, y: 23.7, t: "p<0.0001" }]} />
      <DotPanel {...base} px={590} py={376} pw={83.3} ph={116.3} xDom={[0.2, 2.67]} yDom={[0, 1.5]} yTicks={[0, 0.5, 1, 1.5]} dec={1}
        groups={two(fFF, fLKO, [0, 0, 0], [0, 0, 0], fMean, fSD)} lx={566.7} ylabel="Relative expression of CXCL13"
        pvals={[{ a: 0.99, b: 2.0, y: 1.4, t: "ns" }]} />
      <DotPanel {...base} r={2.5} tsz={3} tm={1} px={695.7} py={377.3} pw={87} ph={115} xDom={[0.08, 2.66]} yDom={[0, 20]} yTicks={[0, 5, 10, 15, 20]} dec={0}
        groups={two(f2FF, f2LKO, [-0.3, -0.15, 0, 0.15, 0.3, -0.3, -0.15, 0, 0.15, 0.3, 0.36], [-0.3, -0.15, 0, 0.15, 0.3, -0.3, -0.1, 0.1, 0.25, 0.35], f2Mean, f2SD)}
        lx={679.5} lfs={7} ylabel="CXCL13 concentration(ng/ml)" pvals={[{ a: 1.05, b: 2.04, y: 15.4, t: "ns" }]} />
      <DotPanel {...base} bw={20} fs={7} lfs={6.8} xfs={8} pfs={7.5} px={39.3} py={612.7} pw={79} ph={112.3} xDom={[0.254, 2.67]} yDom={[0, 1.5]} yTicks={[0, 0.5, 1, 1.5]} dec={1}
        groups={two(gFF, gLKO, [0.05, -0.2, 0.1], [-0.2, 0.2, 0], gMean, gSD)} lx={16.7} ylabel="Relative expression of CX3CL1"
        pvals={[{ a: 1.02, b: 1.98, y: 1.36, t: "p=0.0091" }]} />
      <DotPanel {...base} r={2.5} fs={7} lfs={6.5} xfs={8} pfs={7.5} px={161} py={625.7} pw={70.7} ph={105.3} xDom={[0.276, 2.52]} yDom={[0, 10]} yTicks={[0, 2, 4, 6, 8, 10]} dec={0}
        groups={two(g2FF, g2LKO, [-0.05, -0.3, -0.18, -0.05, 0.08, 0.2, 0.3], [0.05, -0.3, -0.15, 0.05, 0.2, 0.32], g2Mean, g2SD)}
        lx={144.3} ylabel="CX3CL1 concentration(ng/ml)" pvals={[{ a: 1.02, b: 2.06, y: 8.64, t: "p<0.0001" }]} />

      <FlowPlot px={340} py={558} pw={96} ph={93} rings={h1Rings} lvl={h1Lvl} gate={h1Gate} pct="19.0%" pctAt={[55.5, 21.5]} />
      <FlowPlot px={451.7} py={558} pw={95} ph={93} rings={h2Rings} lvl={h2Lvl} gate={h2Gate} blip={[62.4, 54.8]} pct="6.87%" pctAt={[53.7, 21.5]} />
      <FlowPlot px={339.3} py={701.7} pw={95} ph={95} rings={i1Rings} lvl={iLvl} rect={i1Gate} pct="49.0%" pctAt={[56.8, 16.5]} />
      <FlowPlot px={451.7} py={701.7} pw={95} ph={95} rings={i2Rings} lvl={iLvl} rect={i2Gate} pct="30.0%" pctAt={[49.1, 18.6]} />

      <DotPanel {...base} bar={false} r={2.2} sw={1.2} cap={4.5} meanW={8.5} fs={7} lfs={6.8} xfs={6.5} pfs={7}
        px={633.3} py={567} pw={61.7} ph={92} xDom={[0.33, 2.7]} yDom={[0, 40]} yTicks={[0, 10, 20, 30, 40]} dec={0}
        groups={two(hFF, hLKO, [-0.03, 0.01, -0.03, -0.09, 0.06, -0.03], [0, -0.23, 0, 0.22, -0.12, 0.09], hMean, hSD)}
        lx={613.3} ylabel="CX3CR1⁺ CD8⁺ T cells (%)" pvals={[{ a: 1.04, b: 1.96, y: 35.1, t: "p=0.022" }]} />
      <DotPanel {...base} bar={false} r={2.4} sw={1.2} cap={4.5} meanW={8.5} fs={7} lfs={6.8} xfs={6.5} pfs={7}
        px={634.3} py={703.3} pw={65} ph={96.7} xDom={[0.42, 2.67]} yDom={[0, 80]} yTicks={[0, 20, 40, 60, 80]} dec={0}
        groups={two(iFF, iLKO, [-0.05, 0.2, -0.03, 0.18], [-0.05, 0.2, -0.05, 0.2], iMean, iSD)}
        lx={613.3} ylabel="CX3CR1⁺ CD8⁺ T cells (%)" pvals={[{ a: 1.1, b: 1.97, y: 60.4, t: "p=0.0008" }]} />

      <DotPanel {...base} bar={false} r={3.5} sw={1.4} cap={5} meanW={8.5} fs={7.5} lfs={9.3} xfs={8.5} pfs={8} mt={90}
        labels={geno4} xTicks={[1, 2, 3, 4]} px={49.3} py={934.3} pw={109} ph={114} xDom={[0.15, 4.28]} yDom={[0, 0.2]}
        yTicks={[0, 0.05, 0.1, 0.15, 0.2]} dec={2}
        groups={four(jVals, [[0.02, 0.19, 0], [0.03, -0.13, 0.18], [0, 0.19, -0.16, 0], [-0.25, -0.1, 0.03, 0.18]], jMean, jSD)}
        lx={22.7} ylabel="Liver /body weight"
        pvals={[
          { a: 1.09, b: 1.97, y: 0.191, t: "p=0.003" },
          { a: 1.98, b: 3.02, y: 0.223, t: "p=0.0004" },
          { a: 2.11, b: 4.13, y: 0.256, t: "p=0.0002" },
          { a: 3.0, b: 4.0, y: 0.12, t: "ns" },
        ]}
        hfs={7.5} htop={11.7} hgap={9}
        headers={[
          { a: 0.45, b: 2.04, y: 0.301, lines: ["AAV-GdGreen"] },
          { a: 2.49, b: 4.07, y: 0.301, lines: ["AAV-CX3CL1-", "GdGreen-Flag"] },
        ]} />
      <DotPanel {...base} bar={false} r={4} sw={1.5} cap={6} meanW={10.5} fs={8} lfs={11} xfs={9} pfs={8.5} mt={70} mr={30}
        labels={geno4} xTicks={[1, 2, 3, 4]} px={221.7} py={912.7} pw={125} ph={129.3} xDom={[0.187, 4.37]} yDom={[0, 10]}
        yTicks={[0, 2, 4, 6, 8, 10]} dec={0}
        groups={four(kVals, [[-0.18, 0.15, 0.02], [-0.15, 0.19, 0], [-0.03, 0, -0.17, 0.16], [0, 0, 0, 0]], kMean, kSD)}
        lx={200} ylabel="CD8 + T cells( % )"
        pvals={[
          { a: 1.08, b: 2.03, y: 8.61, t: "p<0.0001" },
          { a: 2.86, b: 3.84, y: 9.95, t: "ns" },
        ]}
        hfs={8.5} htop={14.7} hgap={10}
        headers={[
          { a: 0.71, b: 2.3, y: 12.45, lines: ["AAV-GdGreen"] },
          { a: 2.7, b: 4.59, y: 12.45, lines: ["AAV-CX3CL1-", "GdGreen-Flag"] },
        ]} />
      <DotPanel {...base} bar={false} r={3} sw={1.3} cap={3.5} meanW={5} fs={8} lfs={7} xfs={8.5} pfs={8.5} mt={40} italic={false}
        labels={lCats.map((c) => [c])} xTicks={[1, 2, 3]} px={404} py={916} pw={218.7} ph={122.3} xDom={[0.54, 3.475]} yDom={[0, 5]}
        yTicks={[0, 1, 2, 3, 4, 5]} dec={0} groups={lGroups} lx={380} ylabel="percentage of live cells(%)"
        pvals={[
          { a: 0.643, b: 0.889, y: 1.95, t: "p=0.02" },
          { a: 1.113, b: 1.345, y: 1.95, t: "ns" },
          { a: 1.537, b: 1.886, y: 2.07, t: "p<0.0001" },
          { a: 2.097, b: 2.329, y: 2.66, t: "ns" },
          { a: 2.567, b: 2.916, y: 3.41, t: "p<0.0001" },
          { a: 3.117, b: 3.341, y: 5.27, t: "ns" },
        ]} />
      <Overlay />
    </div>
  );
}
